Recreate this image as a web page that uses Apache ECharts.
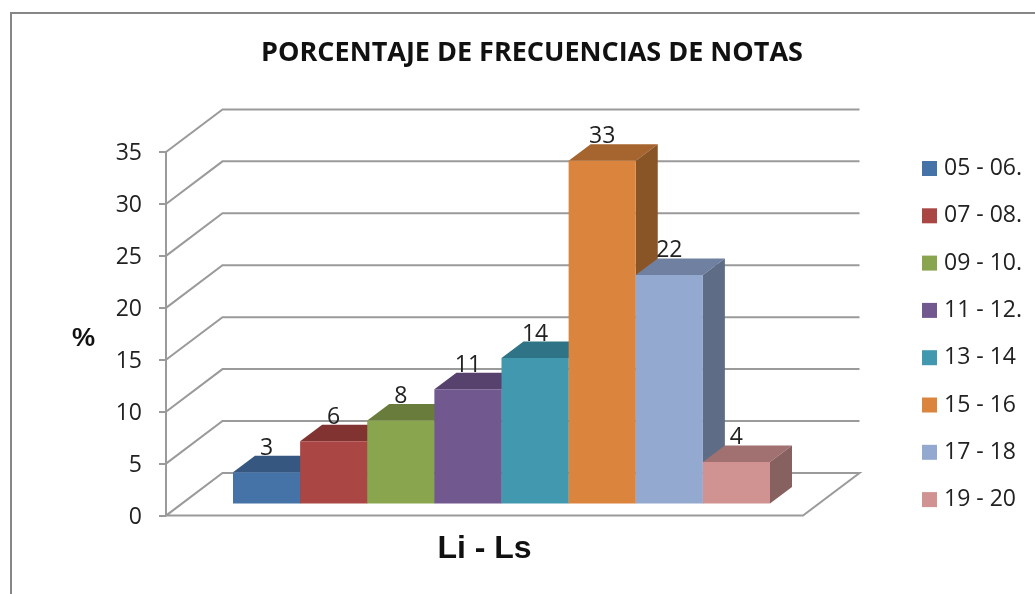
<!DOCTYPE html>
<html>
<head>
<meta charset="utf-8">
<style>html,body{margin:0;padding:0;background:#fff}#canvas{width:1035px;height:594px}</style>
<script src="https://cdn.jsdelivr.net/npm/echarts@6/dist/echarts.min.js"></script>
</head>
<body>
<div id="canvas"></div>
<script>
var categories = ['05 - 06.', '07 - 08.', '09 - 10.', '11 - 12.', '13 - 14', '15 - 16', '17 - 18', '19 - 20'];
var values = [3, 6, 8, 11, 14, 33, 22, 4];
var wallTicks = [5, 10, 15, 20, 25, 30, 35];
var frontColors = ['#4572a7', '#aa4643', '#89a54e', '#71588f', '#4198af', '#db843d', '#93a9cf', '#d19392'];
var topColors = ['#355780', '#803331', '#697c3b', '#56426d', '#2f7486', '#a6642e', '#6f80a0', '#a07170'];
var sideColors = ['#2d4a6d', '#6d2c2a', '#586832', '#49385c', '#286271', '#8a5526', '#5e6c85', '#876060'];

var FONT = '"Open Sans"';
var GRID_LINE = '#9a9a9a';
// depth of the walls and of the bars, in pixels
var WALL_DX = 56.5, WALL_DY = 42.6;
var BAR_DX = 22, BAR_DY = 16.5;

var myChart = echarts.init(document.getElementById('canvas'));

function renderWall(params, api) {
    var a = api.coord([0, api.value(0)]),
        b = api.coord([1, api.value(0)]);
    return {
        type: 'polyline',
        shape: {points: [[a[0], a[1]], [a[0] + WALL_DX, a[1] - WALL_DY], [b[0] + WALL_DX, b[1] - WALL_DY]]},
        style: {fill: null, stroke: GRID_LINE, lineWidth: 2}
    };
}

function renderFloor(params, api) {
    var a = api.coord([0, 0]),
        b = api.coord([1, 0]);
    return {
        type: 'polygon',
        shape: {points: [[a[0], a[1]], [b[0], b[1]], [b[0] + WALL_DX, b[1] - WALL_DY], [a[0] + WALL_DX, a[1] - WALL_DY]]},
        style: {fill: '#fff', stroke: GRID_LINE, lineWidth: 2}
    };
}

function renderBar(i) {
    return function (params, api) {
        var top = api.coord([api.value(0), api.value(1)]),
            base = api.coord([api.value(0), 0]),
            w = api.size([1, 0])[0],
            l = top[0] - w / 2,
            r = top[0] + w / 2;
        return {
            type: 'group',
            children: [
                {type: 'polygon', shape: {points: [[l, top[1]], [r, top[1]], [r + BAR_DX, top[1] - BAR_DY], [l + BAR_DX, top[1] - BAR_DY]]}, style: {fill: topColors[i]}},
                {type: 'polygon', shape: {points: [[r, top[1]], [r + BAR_DX, top[1] - BAR_DY], [r + BAR_DX, base[1] - BAR_DY], [r, base[1]]]}, style: {fill: sideColors[i]}},
                {type: 'rect', shape: {x: l, y: top[1], width: w, height: base[1] - top[1]}, style: {fill: frontColors[i]}},
                {type: 'text', z2: 50, style: {text: String(api.value(1)), x: top[0], y: top[1] - BAR_DY + 4, align: 'center', verticalAlign: 'bottom', fill: '#222', font: '23px ' + FONT}}
            ]
        };
    };
}

var series = [
    {type: 'custom', silent: true, xAxisIndex: 0, yAxisIndex: 0, clip: false, z: 1, data: wallTicks.map(function (t) { return [t]; }), renderItem: renderWall},
    {type: 'custom', silent: true, xAxisIndex: 0, yAxisIndex: 0, clip: false, z: 1, data: [[0]], renderItem: renderFloor}
];
categories.forEach(function (name, i) {
    series.push({
        name: name,
        type: 'custom',
        xAxisIndex: 1,
        yAxisIndex: 1,
        clip: false,
        z: 2,
        itemStyle: {color: frontColors[i]},
        data: [[i, values[i]]],
        renderItem: renderBar(i)
    });
});

myChart.setOption({
    animation: false,
    title: {
        text: 'PORCENTAJE DE FRECUENCIAS DE NOTAS',
        left: 527,
        top: 35,
        textAlign: 'center',
        textStyle: {fontFamily: FONT, fontWeight: 'bold', fontSize: 27, color: '#111'}
    },
    legend: {
        orient: 'vertical',
        left: 917,
        top: 152,
        icon: 'rect',
        itemWidth: 15,
        itemHeight: 15,
        itemGap: 24.3,
        data: categories,
        textStyle: {fontFamily: FONT, fontSize: 23, color: '#222', padding: [0, 0, 0, 2]}
    },
    grid: [
        {left: 166, top: 152, width: 637, height: 363.6},
        {left: 233, top: 139.9, width: 537, height: 363.6}
    ],
    xAxis: [
        {
            type: 'value', gridIndex: 0, min: 0, max: 1,
            name: 'Li - Ls', nameLocation: 'middle', nameGap: 18,
            nameTextStyle: {fontFamily: 'Liberation Sans', fontWeight: 'bold', fontSize: 32, color: '#111'},
            axisLine: {show: false}, axisTick: {show: false}, axisLabel: {show: false}, splitLine: {show: false}
        },
        {
            type: 'category', gridIndex: 1, data: categories,
            axisLine: {show: false}, axisTick: {show: false}, axisLabel: {show: false}, splitLine: {show: false}
        }
    ],
    yAxis: [
        {
            type: 'value', gridIndex: 0, min: 0, max: 35, interval: 5,
            name: '%', nameLocation: 'middle', nameGap: 71, nameRotate: 0,
            nameTextStyle: {fontFamily: 'Liberation Sans', fontWeight: 'bold', fontSize: 26, color: '#111', verticalAlign: 'top', lineHeight: 10},
            axisLine: {show: true, lineStyle: {color: GRID_LINE, width: 2}},
            axisTick: {show: true, length: 7, lineStyle: {color: GRID_LINE, width: 2}},
            axisLabel: {margin: 24, fontFamily: FONT, fontSize: 23, color: '#222', verticalAlign: 'top', lineHeight: 3},
            splitLine: {show: false}
        },
        {
            type: 'value', gridIndex: 1, min: 0, max: 35, show: false
        }
    ],
    graphic: [{
        type: 'rect',
        silent: true,
        z: -1,
        shape: {x: 11, y: 13, width: 1100, height: 700},
        style: {fill: null, stroke: '#868686', lineWidth: 2}
    }],
    series: series
});
</script>
</body>
</html>
